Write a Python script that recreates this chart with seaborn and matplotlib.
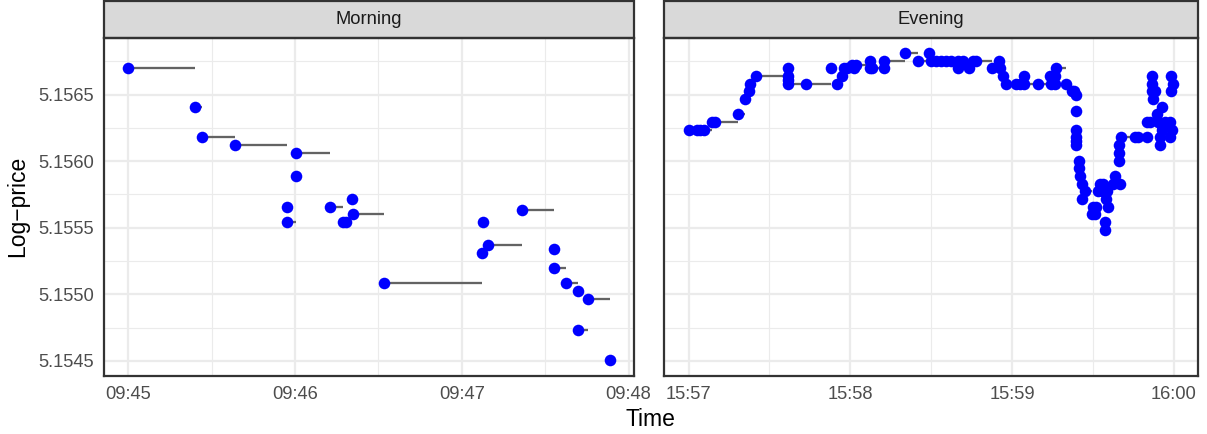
import numpy as np
import matplotlib
matplotlib.use("Agg")
import matplotlib.pyplot as plt
import seaborn as sns
import pandas as pd
from matplotlib.patches import Rectangle

# ---- data (seconds after session start, price in $; plotted as log-price) ----
morning_seconds = [0.0, 24.0, 26.6, 38.3, 57.1, 57.1, 60.2, 60.2, 72.7, 77.1,
                   78.3, 80.3, 81.0, 92.1, 127.2, 127.5, 129.6, 141.7, 153.0, 153.0,
                   157.4, 161.7, 161.7, 165.5, 173.3]
morning_price = [173.59, 173.54, 173.50, 173.49, 173.41, 173.39, 173.45, 173.48, 173.41, 173.39,
                 173.39, 173.42, 173.40, 173.31, 173.35, 173.39, 173.36, 173.405, 173.355, 173.33,
                 173.31, 173.30, 173.25, 173.29, 173.21]

evening_seconds = [0.0, 3.1, 4.4, 5.6, 8.7, 9.9, 18.4, 20.8, 22.3, 22.7,
                   25.1, 37.0, 37.0, 37.0, 37.0, 43.4, 53.0, 54.9, 57.1, 57.7,
                   58.9, 60.8, 61.4, 62.0, 67.3, 67.3, 68.2, 72.5, 72.5, 80.2,
                   85.0, 89.3, 89.9, 91.8, 93.6, 95.5, 97.4, 99.8, 99.8, 101.8,
                   104.2, 105.4, 106.7, 112.6, 115.3, 115.6, 116.6, 117.6, 121.5, 122.8,
                   124.6, 124.6, 129.6, 133.9, 134.6, 135.8, 135.8, 136.4, 139.9, 142.4,
                   143.1, 143.9, 143.9, 143.9, 143.9, 143.9, 143.9, 144.9, 144.9, 145.3,
                   146.1, 146.1, 146.9, 149.8, 150.1, 150.7, 151.3, 151.9, 152.5, 153.2,
                   153.8, 154.4, 154.4, 154.7, 155.4, 155.7, 157.5, 158.1, 159.7, 159.7,
                   159.8, 160.0, 160.3, 165.5, 166.8, 169.9, 169.9, 171.1, 171.8, 171.8,
                   171.8, 172.4, 173.0, 173.6, 174.2, 174.8, 174.8, 175.5, 175.5, 175.5,
                   176.7, 178.6, 178.6, 178.8, 178.8, 179.2, 179.8]
evening_price = [173.51, 173.51, 173.51, 173.51, 173.52, 173.52, 173.53, 173.55, 173.56, 173.57,
                 173.58, 173.59, 173.58, 173.575, 173.57, 173.57, 173.59, 173.57, 173.58, 173.59,
                 173.59, 173.595, 173.59, 173.595, 173.60, 173.59, 173.59, 173.59, 173.60, 173.61,
                 173.60, 173.61, 173.60, 173.60, 173.60, 173.60, 173.60, 173.59, 173.60, 173.60,
                 173.59, 173.60, 173.60, 173.59, 173.60, 173.59, 173.58, 173.57, 173.57, 173.57,
                 173.58, 173.57, 173.57, 173.58, 173.57, 173.58, 173.57, 173.59, 173.57, 173.56,
                 173.56, 173.555, 173.535, 173.51, 173.50, 173.495, 173.49, 173.47, 173.46, 173.45,
                 173.44, 173.42, 173.43, 173.40, 173.41, 173.40, 173.41, 173.43, 173.44, 173.43,
                 173.44, 173.39, 173.38, 173.42, 173.43, 173.41, 173.44, 173.45, 173.47, 173.48,
                 173.49, 173.44, 173.50, 173.50, 173.50, 173.50, 173.52, 173.52, 173.58, 173.57,
                 173.56, 173.55, 173.56, 173.53, 173.52, 173.50, 173.49, 173.54, 173.515, 173.51,
                 173.52, 173.52, 173.50, 173.58, 173.56, 173.51, 173.57]

panel_titles = ["Morning", "Evening"]
tick_seconds = [0, 60, 120, 180]
morning_tick_labels = ["09:45", "09:46", "09:47", "09:48"]
evening_tick_labels = ["15:57", "15:58", "15:59", "16:00"]
y_ticks = [5.1545, 5.1550, 5.1555, 5.1560, 5.1565]

# ---- style ----
sns.set_style("white")
plt.rcParams["font.family"] = ["Liberation Sans", "DejaVu Sans"]

DPI = 150
W, H = 1207, 434
fig = plt.figure(figsize=(W / DPI, H / DPI), dpi=DPI)


def px_axes(l, r, t, b):
    return fig.add_axes([l / W, 1 - b / H, (r - l) / W, (b - t) / H])


ax1 = px_axes(104.3, 634.0, 37.7, 375.7)
ax2 = px_axes(664.3, 1197.5, 37.7, 375.7)

all_lp = np.log(np.array(morning_price + evening_price))
lo, hi = all_lp.min(), all_lp.max()
pad = (hi - lo) * 0.05
ylim = (lo - pad, hi + pad)

GRID = "#EBEBEB"
DARK = "#333333"
LW = 1.07
strip_h_frac = 36.7 / 338.0

for ax, secs, prices, labels, title in [
    (ax1, morning_seconds, morning_price, morning_tick_labels, panel_titles[0]),
    (ax2, evening_seconds, evening_price, evening_tick_labels, panel_titles[1]),
]:
    df = pd.DataFrame({"time": secs, "lp": np.log(prices)})
    t = df["time"].to_numpy()
    lp = df["lp"].to_numpy()
    ax.hlines(lp[:-1], t[:-1], t[1:], color="#636363", lw=1.1, zorder=2)
    sns.scatterplot(data=df, x="time", y="lp", ax=ax, color="#0000FF", s=31,
                    linewidth=0, zorder=3, legend=False)
    ax.set_xlabel("")
    ax.set_ylabel("")

    xr = t.max() - t.min()
    ax.set_xlim(t.min() - 0.05 * xr, t.max() + 0.05 * xr)
    ax.set_ylim(*ylim)

    ax.set_xticks(tick_seconds)
    ax.set_xticklabels(labels)
    ax.set_xticks([30, 90, 150], minor=True)
    ax.set_yticks(y_ticks)
    ax.set_yticklabels([f"{v:.4f}" for v in y_ticks])
    ax.set_yticks([5.15475, 5.15525, 5.15575, 5.15625, 5.15675], minor=True)

    ax.grid(which="major", color=GRID, lw=LW, zorder=0)
    ax.grid(which="minor", color=GRID, lw=LW * 0.5, zorder=0)
    ax.set_axisbelow(True)

    for sp in ax.spines.values():
        sp.set_color(DARK)
        sp.set_linewidth(LW)
        sp.set_visible(True)

    ax.tick_params(which="major", direction="out", length=2.75, width=LW, color=DARK,
                   labelsize=8.8, labelcolor="#4D4D4D", pad=2.2)
    ax.tick_params(which="minor", length=0)

    ax.add_patch(Rectangle((0, 1), 1, strip_h_frac, transform=ax.transAxes,
                           facecolor="#D9D9D9", edgecolor=DARK, lw=LW, clip_on=False))
    ax.text(0.5, 1 + strip_h_frac / 2, title, transform=ax.transAxes, ha="center",
            va="center", fontsize=8.8, color="#1A1A1A")

ax2.tick_params(which="both", left=False, labelleft=False)

fig.text(650.9 / W, 1 - 419 / H, "Time", ha="center", va="center", fontsize=11, color="black")
fig.text(18 / W, 1 - 206.7 / H, "Log\u2212price", ha="center", va="center", rotation=90,
         fontsize=11, color="black")

fig.savefig("out.png", dpi=DPI)
